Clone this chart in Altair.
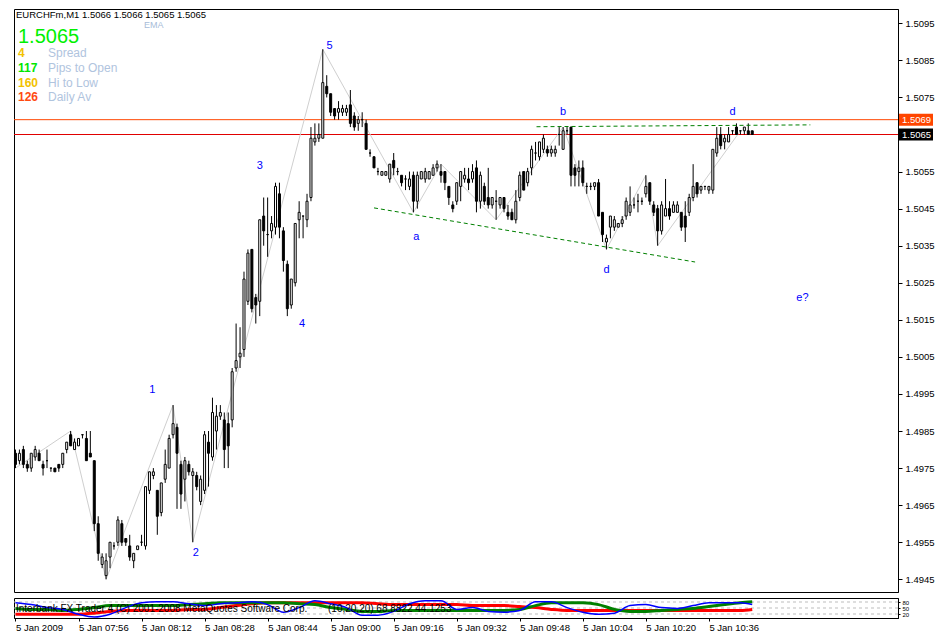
import altair as alt
import pandas as pd

FONT = "Liberation Sans"

# ---------------- candle data (prices in points = price x 10000), one per minute from 07:40
open_pts = [14979,14977,14980,14976,14975,14978,14979,14976,14977,14975,
            14975,14976,14976,14980,14984,14980,14981,14984,14983,14979,
            14977,14960,14949,14946,14951,14954,14955,14960,14956,14954,
            14950,14953,14955,14954,14969,14973,14969,14963,14972,14975,
            14984,14986,14976,14972,14976,14973,14973,14966,14969,14982,
            14978,14985,14989,14988,14987,14988,15002,15005,15007,15020,
            15034,15021,15020,15043,15038,15039,15040,15049,15039,15030,
            15019,15025,15042,15043,15042,15048,15063,15064,15064,15078,
            15076,15072,15071,15071,15071,15073,15070,15068,15069,15068,
            15060,15059,15055,15054,15054,15053,15058,15055,15054,15053,
            15051,15054,15047,15053,15053,15053,15054,15056,15055,15055,
            15051,15046,15047,15051,15053,15053,15053,15056,15047,15051,
            15048,15046,15047,15046,15048,15044,15044,15042,15048,15055,
            15052,15056,15060,15059,15061,15061,15060,15060,15065,15061,
            15066,15067,15056,15055,15056,15051,15051,15051,15052,15044,
            15036,15040,15040,15040,15041,15043,15044,15046,15047,15047,
            15049,15052,15046,15045,15039,15043,15045,15044,15044,15044,
            15043,15044,15048,15052,15050,15051,15050,15050,15060,15065,
            15063,15063,15066,15067,15066,15066,15066,15066]
high_pts = [14980,14980,14981,14977,14979,14981,14980,14977,14980,14975,
            14975,14976,14979,14982,14985,14983,14983,14984,14985,14985,
            14977,14962,14952,14952,14955,14955,14962,14961,14956,14957,
            14952,14954,14957,14970,14974,14975,14969,14971,14980,14984,
            14992,14987,14977,14978,14977,14975,14974,14973,14985,14985,
            14994,14992,14992,14990,14990,15002,15014,15013,15028,15034,
            15034,15022,15042,15048,15048,15043,15052,15052,15040,15031,
            15026,15041,15047,15043,15049,15067,15068,15068,15088,15081,
            15076,15072,15074,15073,15073,15077,15071,15070,15071,15069,
            15061,15059,15056,15055,15055,15057,15060,15056,15054,15054,
            15055,15055,15055,15055,15056,15055,15057,15058,15057,15055,
            15051,15047,15052,15055,15056,15056,15057,15058,15055,15052,
            15056,15048,15050,15048,15048,15046,15045,15050,15055,15055,
            15056,15062,15063,15063,15065,15062,15062,15062,15067,15067,
            15067,15067,15057,15058,15058,15052,15052,15052,15053,15044,
            15038,15043,15043,15041,15043,15048,15051,15048,15049,15048,
            15054,15052,15047,15046,15047,15053,15047,15047,15047,15044,
            15047,15049,15057,15052,15051,15051,15051,15061,15067,15067,
            15065,15067,15066,15068,15066,15067,15068,15066]
low_pts = [14975,14976,14975,14974,14974,14977,14977,14973,14975,14974,
           14974,14974,14975,14979,14981,14980,14981,14983,14977,14978,
           14958,14950,14948,14945,14948,14953,14954,14954,14954,14950,
           14948,14953,14954,14953,14968,14972,14957,14962,14971,14975,
           14983,14964,14964,14966,14973,14955,14969,14965,14968,14970,
           14977,14980,14988,14975,14975,14986,15001,15002,15005,15019,
           15017,15014,15016,15035,15032,15037,15038,15037,15028,15016,
           15018,15024,15037,15037,15040,15047,15062,15063,15064,15075,
           15070,15069,15069,15070,15070,15067,15066,15066,15067,15061,
           15059,15056,15054,15054,15054,15052,15054,15054,15051,15050,
           15050,15044,15045,15053,15052,15053,15054,15055,15052,15050,
           15046,15044,15046,15047,15052,15050,15052,15044,15045,15046,
           15045,15045,15042,15045,15044,15042,15042,15041,15047,15050,
           15051,15054,15058,15058,15060,15059,15059,15059,15062,15061,
           15065,15051,15051,15051,15051,15049,15050,15050,15043,15036,
           15034,15037,15039,15040,15040,15042,15043,15045,15044,15046,
           15048,15046,15043,15035,15038,15043,15042,15044,15044,15039,
           15036,15043,15047,15048,15049,15050,15049,15049,15059,15061,
           15061,15063,15065,15065,15065,15065,15065,15065]
close_pts = [14976,14979,14976,14975,14979,14980,14977,14975,14977,14975,
             14974,14975,14979,14982,14981,14982,14983,14984,14977,14978,
             14960,14952,14951,14950,14955,14954,14961,14955,14955,14951,
             14952,14954,14955,14970,14974,14974,14962,14971,14976,14983,
             14987,14979,14968,14977,14974,14974,14970,14972,14984,14979,
             14990,14989,14990,14980,14981,15001,15004,15006,15026,15033,
             15018,15019,15042,15039,15038,15041,15051,15040,15031,15018,
             15026,15041,15044,15043,15047,15064,15064,15065,15079,15076,
             15071,15070,15072,15072,15072,15068,15067,15069,15069,15061,
             15060,15056,15055,15055,15055,15057,15056,15055,15052,15053,
             15053,15047,15054,15055,15055,15055,15056,15057,15054,15052,
             15048,15045,15052,15055,15054,15052,15055,15047,15054,15047,
             15046,15048,15047,15048,15045,15043,15042,15047,15054,15050,
             15055,15061,15060,15063,15064,15060,15061,15061,15065,15066,
             15066,15054,15054,15056,15052,15051,15051,15052,15043,15038,
             15037,15043,15042,15041,15042,15047,15046,15046,15047,15047,
             15051,15047,15044,15039,15046,15045,15043,15046,15046,15040,
             15040,15048,15051,15049,15051,15051,15051,15061,15064,15062,
             15064,15065,15066,15065,15066,15067,15065,15065]

# zigzag pivots (minute index, price points)
zz_i = [0, 14, 23, 40, 45, 78, 101, 108, 122, 139, 150, 160, 163, 184]
zz_pts = [14975, 14985, 14945, 14992, 14955, 15088, 15044, 15057, 15042, 15067, 15034, 15054, 15035, 15066]

# dashed trend lines
trend_name = ["lower", "lower", "upper", "upper"]
trend_i = [91, 172.5, 132.25, 201.75]
trend_pts = [15045.2, 15030.6, 15067.1, 15067.6]

# wave labels
wave_text = ["1", "2", "3", "4", "5", "a", "b", "d", "d", "e?"]
wave_i = [34.75, 45.75, 62, 72.75, 79.75, 101.75, 139, 150, 182, 199.75]
wave_pts = [14996, 14952, 15056.5, 15014, 15089, 15037.4, 15071, 15028.5, 15071, 15021]

# price levels
ask_price = 1.5069
bid_price = 1.5065

price_ticks = [1.4945, 1.4955, 1.4965, 1.4975, 1.4985, 1.4995, 1.5005, 1.5015,
               1.5025, 1.5035, 1.5045, 1.5055, 1.5075, 1.5085, 1.5095]

time_tick_i = [0, 16, 32, 48, 64, 80, 96, 112, 128, 144, 160, 176]
time_labels = ["5 Jan 2009", "5 Jan 07:56", "5 Jan 08:12", "5 Jan 08:28", "5 Jan 08:44",
               "5 Jan 09:00", "5 Jan 09:16", "5 Jan 09:32", "5 Jan 09:48", "5 Jan 10:04",
               "5 Jan 10:20", "5 Jan 10:36"]

info_numbers = ["4", "117", "160", "126"]
info_labels = ["Spread", "Pips to Open", "Hi to Low", "Daily Av"]

# indicator (0-100) sampled every 4 minutes
ind_i = [0, 4, 8, 12, 16, 20, 24, 28, 32, 36, 40, 44, 48, 52, 56, 60, 64, 68, 72, 76,
         80, 84, 88, 92, 96, 100, 104, 108, 112, 116, 120, 124, 128, 132, 136, 140, 144,
         148, 152, 156, 160, 164, 168, 172, 176, 180, 184, 187]
ind_blue = [76, 67, 52, 43, 19, 5, 19, 52, 76, 81, 81, 71, 62, 71, 76, 81, 67, 29, 52, 86,
            71, 52, 14, 14, 33, 71, 86, 86, 43, 52, 33, 29, 38, 81, 81, 52, 29, 19, 24, 62,
            67, 52, 48, 62, 76, 76, 76, 67]
ind_green = [48, 43, 43, 38, 43, 52, 62, 62, 62, 62, 62, 67, 71, 76, 76, 76, 76, 76, 71, 67,
             52, 43, 33, 33, 38, 38, 38, 38, 38, 38, 38, 38, 43, 62, 76, 76, 76, 67, 43, 33,
             33, 38, 43, 48, 57, 67, 76, 81]
ind_red = [19, 19, 19, 19, 19, 24, 33, 38, 38, 38, 38, 43, 43, 52, 62, 71, 76, 76, 76, 76,
           76, 76, 76, 71, 67, 67, 67, 67, 67, 62, 62, 62, 57, 52, 43, 38, 38, 38, 38, 38,
           38, 38, 38, 38, 38, 38, 38, 43]
ind_levels = [20, 50, 80]

# ---------------- frames
candles = pd.DataFrame({
    "i": list(range(len(open_pts))),
    "open": [v / 10000 for v in open_pts],
    "high": [v / 10000 for v in high_pts],
    "low": [v / 10000 for v in low_pts],
    "close": [v / 10000 for v in close_pts],
})
candles["dir"] = ["up" if c >= o else "down" for o, c in zip(candles["open"], candles["close"])]

zz = pd.DataFrame({"i": zz_i, "price": [v / 10000 for v in zz_pts]})
trend = pd.DataFrame({"name": trend_name, "i": trend_i, "price": [v / 10000 for v in trend_pts]})
waves = pd.DataFrame({"t": wave_text, "i": wave_i, "price": [v / 10000 for v in wave_pts]})
ask_df = pd.DataFrame({"price": [ask_price]})
bid_df = pd.DataFrame({"price": [bid_price]})

W, H1, H2 = 884, 583, 20
X_SCALE = alt.Scale(domain=[-0.375, 224.0], nice=False, zero=False, padding=0)
Y_SCALE = alt.Scale(domain=[1.494157, 1.509886], nice=False, zero=False, padding=0)

y_axis = alt.Axis(orient="right", values=price_ticks, format=".4f", title=None, tickSize=4,
                  labelPadding=3, labelFontSize=9.5, labelFont=FONT, grid=False,
                  labelOverlap=False, domainColor="black", tickColor="black", labelColor="black")


def xq(f):
    return alt.X(f"{f}:Q", scale=X_SCALE, axis=None)


def yq(f):
    return alt.Y(f"{f}:Q", scale=Y_SCALE, axis=y_axis)


ask_rule = alt.Chart(ask_df).mark_rule(strokeWidth=1, color="#FF4500").encode(y=yq("price"))
bid_rule = alt.Chart(bid_df).mark_rule(strokeWidth=1, color="#E00000").encode(y=yq("price"))

zig = alt.Chart(zz).mark_line(color="#CFCFCF", strokeWidth=1).encode(
    x=xq("i"), y=yq("price"), order="i:Q")

wicks = alt.Chart(candles).mark_rule(color="black", strokeWidth=1).encode(
    x=xq("i"), y=yq("low"), y2="high:Q")

bodies = alt.Chart(candles).mark_bar(size=2, stroke="black", strokeWidth=1).encode(
    x=xq("i"), y=yq("open"), y2="close:Q",
    fill=alt.Fill("dir:N", scale=alt.Scale(domain=["up", "down"], range=["white", "black"]), legend=None))

trends = alt.Chart(trend).mark_line(color="#008000", strokeWidth=1, strokeDash=[4, 3]).encode(
    x=xq("i"), y=yq("price"), detail="name:N")

wave_lbl = alt.Chart(waves).mark_text(color="#0000FF", fontSize=11, font=FONT).encode(
    x=xq("i"), y=yq("price"), text="t:N")


def price_box(df, fill):
    rect = alt.Chart(df).transform_calculate(
        top="datum.price + 0.000162", bot="datum.price - 0.000162"
    ).mark_rect(fill=fill).encode(
        x=alt.value(W + 1), x2=alt.value(W + 35), y=yq("top"), y2="bot:Q")
    txt = alt.Chart(df).mark_text(align="left", color="white", fontSize=9.5, font=FONT).encode(
        x=alt.value(W + 4), y=yq("price"), text=alt.Text("price:Q", format=".4f"))
    return [rect, txt]


one = pd.DataFrame({"v": [0]})
info_layers = [
    alt.Chart(one).mark_text(text="EURCHFm,M1  1.5066 1.5066 1.5065 1.5065", align="left",
                             fontSize=9.5, font=FONT, color="black").encode(x=alt.value(2), y=alt.value(6)),
    alt.Chart(one).mark_text(text="EMA", align="left", fontSize=9, font=FONT,
                             color="#A8BCD8").encode(x=alt.value(130), y=alt.value(16)),
    alt.Chart(one).mark_text(text="1.5065", align="left", fontSize=20, font=FONT,
                             color="#00F000").encode(x=alt.value(4), y=alt.value(28)),
]
num_colors = ["#F2C200", "#00E600", "#F2C200", "#FF4A12"]
for k, (n, lab) in enumerate(zip(info_numbers, info_labels)):
    yy = 44 + 14.8 * k
    info_layers.append(alt.Chart(one).mark_text(text=n, align="left", fontSize=12, fontWeight="bold",
                                                font=FONT, color=num_colors[k]).encode(
        x=alt.value(4), y=alt.value(yy)))
    info_layers.append(alt.Chart(one).mark_text(text=lab, align="left", fontSize=12, font=FONT,
                                                color="#B0C4DE").encode(
        x=alt.value(34), y=alt.value(yy)))

main = alt.layer(ask_rule, bid_rule, zig, wicks, bodies, trends, wave_lbl,
                 *price_box(ask_df, "#FF4500"), *price_box(bid_df, "#000000"),
                 *info_layers).properties(width=W, height=H1)

# ---------------- indicator panel
ind = pd.DataFrame({"i": ind_i, "blue": ind_blue, "green": ind_green, "red": ind_red})
Y2 = alt.Scale(domain=[0, 100], nice=False, zero=False, padding=0)
label_arr = "[" + ",".join("'" + s + "'" for s in time_labels) + "]"
x_axis = alt.Axis(values=time_tick_i, labelExpr=label_arr + "[round(datum.value/16)]", title=None,
                  tickSize=3, labelAlign="left", labelBaseline="top", labelPadding=1,
                  labelFontSize=9.5, labelFont=FONT, labelFlush=False, labelOverlap=False, grid=False,
                  domainColor="black", tickColor="black", labelColor="black")
y2_axis = alt.Axis(orient="right", values=ind_levels, title=None, tickSize=2, labelPadding=2,
                   labelFontSize=6, labelFont=FONT, labelOverlap=False, labelBound=False, grid=False,
                   domainColor="black", tickColor="black", labelColor="black")

lvl_ind = alt.Chart(pd.DataFrame({"lvl": ind_levels})).mark_rule(
    color="#BDBDBD", strokeDash=[3, 3], strokeWidth=1).encode(
    y=alt.Y("lvl:Q", scale=Y2, axis=y2_axis))


def ind_line(field, color, width):
    return alt.Chart(ind).mark_line(color=color, strokeWidth=width, interpolate="monotone").encode(
        x=alt.X("i:Q", scale=X_SCALE, axis=x_axis), y=alt.Y(f"{field}:Q", scale=Y2, axis=y2_axis))


txt1 = alt.Chart(one).mark_text(text="Interbank FX Trader 4 (C) 2001-2008 MetaQuotes Software Corp.",
                                align="left", fontSize=10, font=FONT, color="black").encode(
    x=alt.value(2), y=alt.value(11))
txt2 = alt.Chart(one).mark_text(text="(10,20,20) 68.8822 44.1253", align="left", fontSize=10,
                                font=FONT, color="black").encode(x=alt.value(314), y=alt.value(11))

indicator = alt.layer(lvl_ind, ind_line("red", "#FF0000", 3), ind_line("green", "#008000", 3),
                      ind_line("blue", "#0000FF", 1.5), txt1, txt2).properties(width=W, height=H2)

chart = alt.vconcat(main, indicator, spacing=2).properties(
    padding={"left": 0, "top": 0, "right": 0, "bottom": 0}, background="white")
chart = chart.configure(padding=0).configure_view(stroke="black", strokeWidth=1).configure_axis(labelFont=FONT)

chart.save("out.html", embed_options={"renderer": "svg", "actions": False})
